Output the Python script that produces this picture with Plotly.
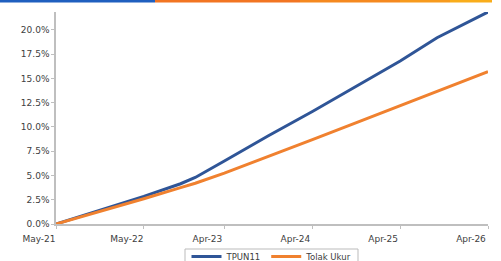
import plotly.graph_objects as go

dates = ["2021-05-01", "2021-11-01", "2022-05-01", "2022-10-01", "2022-12-01",
         "2023-04-01", "2023-10-01", "2024-04-01", "2024-10-01", "2025-04-01",
         "2025-09-01", "2026-04-01"]
tpun11 = [0.0, 1.45, 2.85, 4.15, 4.8, 6.5, 9.1, 11.6, 14.2, 16.8, 19.2, 21.85]
tolak_ukur = [0.0, 1.3, 2.6, 3.75, 4.2, 5.25, 6.95, 8.7, 10.45, 12.2, 13.7, 15.7]

x_tickvals = ["2021-05-01", "2022-05-01", "2023-04-01", "2024-04-01", "2025-04-01", "2026-04-01"]
x_ticktext = ["May-21", "May-22", "Apr-23", "Apr-24", "Apr-25", "Apr-26"]
y_tickvals = [0, 2.5, 5, 7.5, 10, 12.5, 15, 17.5, 20]
y_ticktext = ["0.0%", "2.5%", "5.0%", "7.5%", "10.0%", "12.5%", "15.0%", "17.5%", "20.0%"]

BLUE = "#2f5597"
ORANGE = "#f0812f"
FONT = "DejaVu Sans"

fig = go.Figure()
fig.add_trace(go.Scatter(x=dates, y=tpun11, mode="lines", name="TPUN11",
                         line=dict(color=BLUE, width=3), cliponaxis=False))
fig.add_trace(go.Scatter(x=dates, y=tolak_ukur, mode="lines", name="Tolak Ukur",
                         line=dict(color=ORANGE, width=3), cliponaxis=False))

W, H = 501, 261
L, R, T, B = 56, 13, 12, 37
pw, ph = W - L - R, H - T - B

def px_x(p):
    return (p - L) / pw

def px_y(p):
    return (H - B - p) / ph

# top decorative stripe
segs = [(0, 155, "#1f5fbf"), (155, 300, "#f27522"), (300, 400, "#f5891f"),
        (400, 450, "#f79a1d"), (450, 492, "#f9ad1b")]
for a, b, c in segs:
    fig.add_shape(type="rect", xref="paper", yref="paper",
                  x0=px_x(a), x1=px_x(b), y0=px_y(2.5), y1=px_y(0),
                  fillcolor=c, line=dict(width=0), layer="above")

# legend frame
fig.add_shape(type="rect", xref="paper", yref="paper",
              x0=px_x(185), x1=px_x(358), y0=px_y(266), y1=px_y(249),
              fillcolor="rgba(0,0,0,0)", line=dict(color="#bbbbbb", width=1))

fig.update_layout(
    width=W, height=H,
    margin=dict(l=L, r=R, t=T, b=B, autoexpand=False),
    paper_bgcolor="white", plot_bgcolor="white",
    font=dict(family=FONT, size=9, color="#404040"),
    showlegend=True,
    legend=dict(orientation="h", x=px_x(272), xanchor="center", y=px_y(242), yanchor="top",
                borderwidth=0, bgcolor="rgba(0,0,0,0)", font=dict(size=8.5, color="#404040"),
                itemwidth=30, tracegroupgap=0),
    xaxis=dict(type="date", range=["2021-05-01", "2026-04-01"],
               tickvals=x_tickvals, ticktext=x_ticktext, automargin=False,
               showgrid=False, zeroline=False,
               showline=True, linecolor="#bfbfbf", linewidth=1.5,
               ticks="outside", ticklen=3, tickcolor="#bfbfbf",
               ticklabelshift=-17, ticklabelstandoff=2),
    yaxis=dict(range=[0, 21.85], tickvals=y_tickvals, ticktext=y_ticktext, automargin=False,
               showgrid=False, zeroline=False,
               showline=True, linecolor="#bfbfbf", linewidth=1.5,
               ticks="outside", ticklen=3, tickcolor="#bfbfbf"),
)

fig.write_html("out.html", config={"displayModeBar": False},
               post_script="document.body.style.margin='0';document.body.style.overflow='hidden';")
